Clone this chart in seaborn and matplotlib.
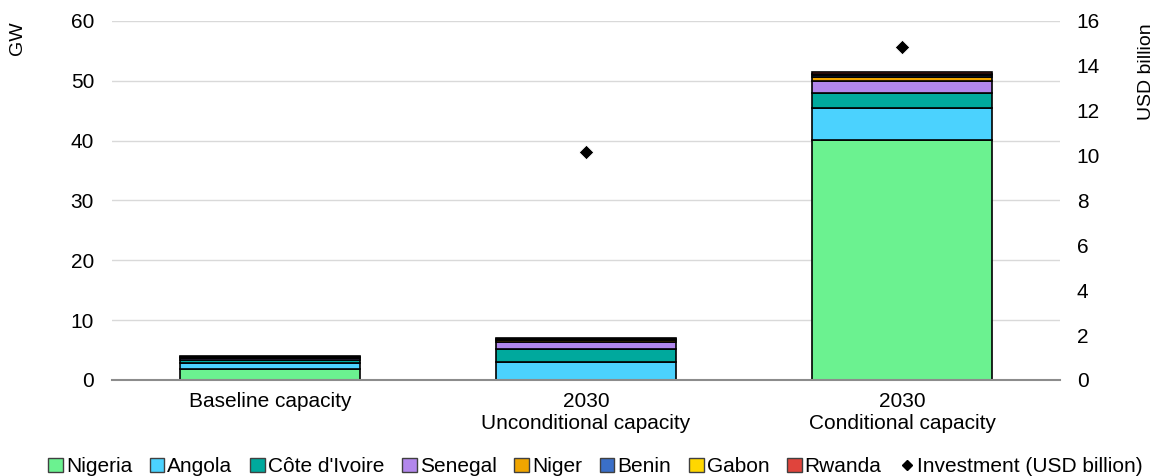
import numpy as np
import pandas as pd
import matplotlib
matplotlib.use('Agg')
import matplotlib.pyplot as plt
from matplotlib.patches import Patch
from matplotlib.lines import Line2D
import seaborn as sns

categories = ['Baseline capacity', '2030\nUnconditional capacity', '2030\nConditional capacity']
countries = ['Nigeria', 'Angola', "Côte d'Ivoire", 'Senegal', 'Niger', 'Benin', 'Gabon', 'Rwanda']
colors = ['#6BF290', '#4BD2FE', '#00A99D', '#B287EC', '#F0A500', '#3A6FC8', '#FFD700', '#E0443C']

nigeria = [1.9, 0.0, 40.1]
angola = [1.0, 3.0, 5.4]
cote_divoire = [0.5, 2.1, 2.5]
senegal = [0.2, 1.3, 1.9]
niger = [0.1, 0.2, 0.7]
benin = [0.1, 0.2, 0.3]
gabon = [0.1, 0.1, 0.2]
rwanda = [0.1, 0.2, 0.4]
investment = [np.nan, 10.15, 14.85]

series = [nigeria, angola, cote_divoire, senegal, niger, benin, gabon, rwanda]

plt.rcParams['font.family'] = ['Liberation Sans', 'DejaVu Sans']
plt.rcParams['font.size'] = 15

fig = plt.figure(figsize=(11.56, 4.76), dpi=100)
ax = fig.add_axes([0.097, 0.2017, 0.82, 0.7543])

bottom = np.zeros(len(categories))
for name, vals, col in zip(countries, series, colors):
    df = pd.DataFrame({'cat': categories, 'val': vals})
    sns.barplot(data=df, x='cat', y='val', color=col, bottom=bottom, width=0.57,
                edgecolor='black', linewidth=1.2, ax=ax, saturation=1)
    bottom = bottom + np.array(vals)

ax.set_ylim(0, 60)
ax.set_yticks(range(0, 61, 10))
ax.set_xlim(-0.5, 2.5)
ax.grid(axis='y', color='#d9d9d9', linewidth=1)
ax.set_axisbelow(True)
for s in ['top', 'right', 'left']:
    ax.spines[s].set_visible(False)
ax.spines['bottom'].set_color('#8c8c8c')
ax.spines['bottom'].set_linewidth(1.5)
ax.tick_params(axis='y', length=0, pad=13)
ax.tick_params(axis='x', length=0, pad=9)
ax.set_xlabel('')
ax.set_ylabel('')
fig.text(0.015, 0.92, 'GW', rotation=90, ha='center', va='center', fontsize=14)

ax2 = ax.twinx()
inv_df = pd.DataFrame({'cat': [0, 1, 2], 'inv': investment})
sns.scatterplot(data=inv_df, x='cat', y='inv', marker='D', color='black', s=55, ax=ax2, zorder=5)
ax2.set_ylim(0, 16)
ax2.set_yticks(range(0, 17, 2))
for s in ['top', 'right', 'left', 'bottom']:
    ax2.spines[s].set_visible(False)
ax2.tick_params(axis='y', length=0, pad=12)
ax2.set_ylabel('')
ax2.set_xlim(-0.5, 2.5)
fig.text(0.9915, 0.85, 'USD billion', rotation=90, ha='center', va='center', fontsize=14)

handles = [Patch(facecolor=c, edgecolor='#404040', linewidth=1, label=n) for n, c in zip(countries, colors)]
handles.append(Line2D([], [], marker='D', color='black', linestyle='none', markersize=5,
                      label='Investment (USD billion)'))
fig.legend(handles=handles, loc='lower center', bbox_to_anchor=(0.515, -0.04), ncol=9, frameon=False,
           handlelength=0.7, handleheight=0.7, handletextpad=0.15, columnspacing=0.85, fontsize=15)

fig.savefig('out.png', dpi=100)
